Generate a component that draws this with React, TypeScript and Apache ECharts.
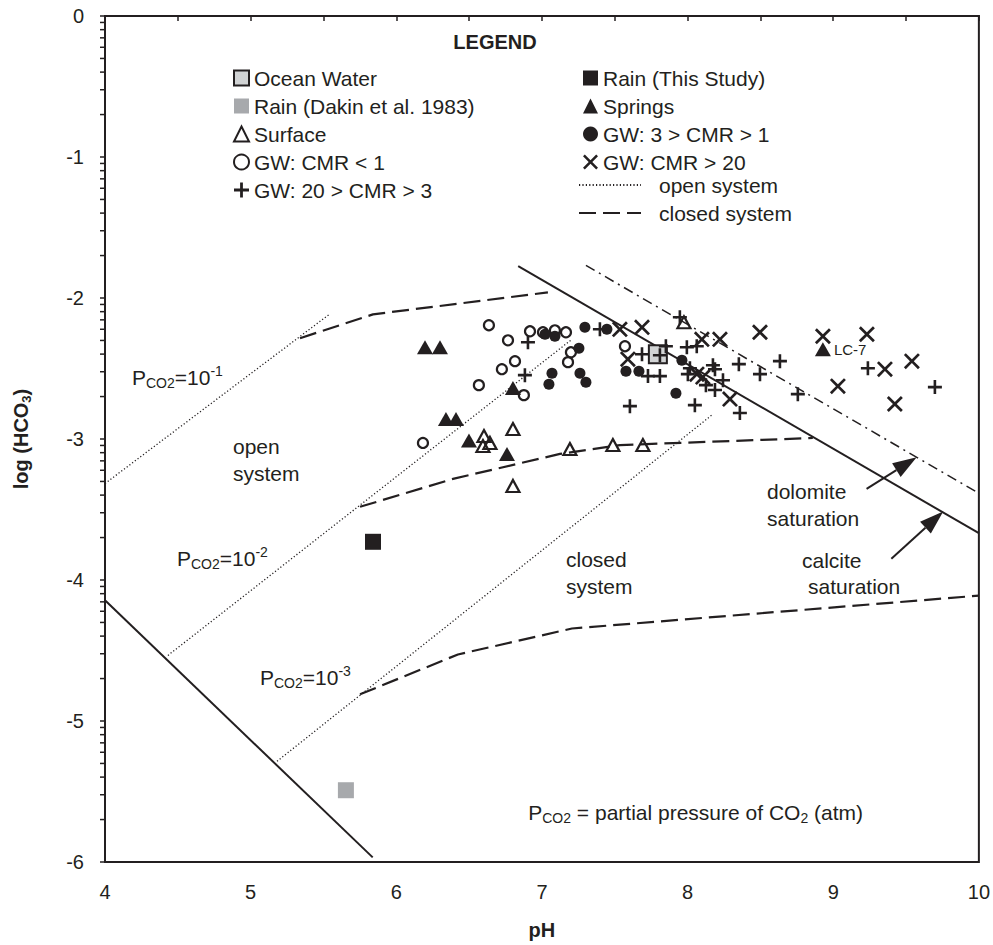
import React, { useEffect, useRef } from 'react';
import * as echarts from 'echarts';

const INK = '#231f20';
const FONT = '"Liberation Sans", Arial, Helvetica, sans-serif';

// ---------- data (pH, log HCO3) ----------
const oceanWater = [[7.796, -2.399]];
const rainThisStudy = [[5.84, -3.729]];
const rainDakin = [[5.654, -5.491]];
const springs = [
  [6.197, -2.349], [6.3, -2.349], [6.341, -2.859], [6.41, -2.859], [6.499, -3.011],
  [6.76, -3.106], [6.801, -2.639], [8.929, -2.363],
];
const springNames = ['', '', '', '', '', '', '', 'LC-7'];
const surface = [
  [6.602, -2.979], [6.643, -3.028], [6.595, -3.05], [6.801, -2.929], [7.192, -3.071],
  [7.487, -3.043], [7.693, -3.043], [6.801, -3.333], [7.975, -2.172],
];
const gwCmrBelow1 = [
  [6.636, -2.193], [6.767, -2.3], [6.918, -2.236], [7.007, -2.243], [7.089, -2.229],
  [7.165, -2.243], [6.725, -2.505], [6.815, -2.448], [6.567, -2.618], [6.876, -2.689],
  [7.199, -2.385], [7.179, -2.455], [6.183, -3.028], [7.57, -2.342],
];
const gwCmr1to3 = [
  [7.021, -2.257], [7.089, -2.271], [7.295, -2.208], [7.446, -2.222], [7.254, -2.356],
  [7.069, -2.533], [7.048, -2.611], [7.261, -2.533], [7.302, -2.597], [7.577, -2.519],
  [7.666, -2.519], [7.961, -2.441], [7.92, -2.675],
];
const gwCmr3to20 = [
  [6.904, -2.314], [6.883, -2.547], [7.398, -2.222], [7.851, -2.342], [7.81, -2.406],
  [7.687, -2.399], [7.728, -2.554], [7.81, -2.554], [7.604, -2.767], [7.995, -2.349],
  [8.063, -2.342], [7.947, -2.137], [8.016, -2.498], [8.002, -2.54], [8.174, -2.477],
  [8.188, -2.505], [8.243, -2.583], [8.126, -2.618], [8.188, -2.653], [8.359, -2.816],
  [8.05, -2.76], [8.352, -2.469], [8.497, -2.54], [8.634, -2.448], [8.757, -2.682],
  [9.238, -2.498], [9.698, -2.632],
];
const gwCmrAbove20 = [
  [7.535, -2.222], [7.687, -2.208], [7.59, -2.434], [8.098, -2.293], [8.222, -2.293],
  [8.064, -2.54], [8.105, -2.561], [8.291, -2.717], [8.497, -2.243], [8.929, -2.271],
  [9.231, -2.257], [9.355, -2.505], [9.54, -2.448], [9.032, -2.625], [9.423, -2.752],
];

// reference lines
const calciteLine = [[6.837, -1.774], [10, -3.668]];
const dolomiteLine = [[7.302, -1.769], [10, -3.385]];
const lowerBoundLine = [[4, -4.144], [5.838, -5.967]];
const openPco2m1 = [[4, -3.316], [5.54, -2.116]];
const openPco2m2 = [[4.432, -4.535], [7.206, -2.293]];
const openPco2m3 = [[5.181, -5.286], [8.167, -2.83]];
const closedTop = [[5.339, -2.285], [5.84, -2.116], [7.041, -1.96]];
const closedMid = [[5.751, -3.481], [6.389, -3.283], [7.124, -3.106], [7.535, -3.043], [8.86, -2.993]];
const closedBottom = [[5.751, -4.811], [6.423, -4.528], [7.206, -4.344], [10, -4.111]];
const arrows = [
  [9.229, -3.354, 9.573, -3.13],
  [9.399, -3.849, 9.755, -3.514],
];

// axis ticks
const yDecades = [-6, -5, -4, -3, -2, -1];
const yMinorMultipliers = [2, 3, 4, 5, 6, 7, 8, 9];
const yMinorTicks: number[] = [];
yDecades.forEach((d) => yMinorMultipliers.forEach((k) => yMinorTicks.push(d + Math.log10(k))));

const PLUS = 'path://M5.7,0H8.3V5.7H14V8.3H8.3V14H5.7V8.3H0V5.7H5.7Z';
const CROSS = 'path://M0,2.4L2.4,0L10,7.6L17.6,0L20,2.4L12.4,10L20,17.6L17.6,20L10,12.4L2.4,20L0,17.6L7.6,10Z';

const richBase = {
  m: { fontSize: 21, lineHeight: 26, fontFamily: FONT, color: INK },
  s: { fontSize: 14, lineHeight: 14, verticalAlign: 'bottom', fontFamily: FONT, color: INK },
  u: { fontSize: 14, lineHeight: 14, verticalAlign: 'top', fontFamily: FONT, color: INK },
};

function txt(text: string, x: number, y: number, opts: any = {}) {
  const size = opts.size || 21;
  const weight = opts.weight || 'normal';
  const align = opts.align || 'left';
  return {
    type: 'text',
    x,
    y,
    silent: true,
    z: 20,
    style: {
      text,
      fill: INK,
      font: `${weight} ${size}px ${FONT}`,
      textAlign: align,
      align,
      textVerticalAlign: 'middle',
      verticalAlign: 'middle',
      rich: opts.rich,
    },
  };
}

function pco2(exp: string, x: number, y: number) {
  return txt(`{m|P}{s|CO2}{m|=10}{u|${exp}}`, x, y, { rich: richBase });
}

export default function App() {
  const ref = useRef<HTMLDivElement>(null);

  useEffect(() => {
    if (!ref.current) return;
    const chart = echarts.init(ref.current, undefined, { renderer: 'svg' });

    const lineSeries = (name: string, data: number[][], lineStyle: any) => ({
      name,
      type: 'line',
      data,
      symbol: 'none',
      showSymbol: false,
      silent: true,
      z: 2,
      itemStyle: { color: 'rgba(0,0,0,0)', opacity: 0 },
      lineStyle: { color: INK, opacity: 1, ...lineStyle },
    });
    const dotted = { type: [1.2, 2.2], width: 1.3 };
    const dashed = { type: [17, 7], width: 2.2 };
    const solidMark = (extra: any) => ({ opacity: 1, ...extra });

    const legendText = { fontSize: 21, lineHeight: 22, color: INK, fontFamily: FONT };

    const option: any = {
      animation: false,
      backgroundColor: '#ffffff',
      textStyle: { fontFamily: FONT, color: INK },
      grid: { left: 105, right: 14, top: 16, bottom: 81, show: true, borderColor: INK, borderWidth: 2 },
      xAxis: {
        type: 'value',
        min: 4,
        max: 10,
        interval: 0.5,
        axisLine: { show: true, lineStyle: { color: INK, width: 2 } },
        axisTick: { show: true, length: 5, lineStyle: { color: INK, width: 1.5 } },
        axisLabel: {
          formatter: (v: number) => (Number.isInteger(v) ? String(v) : ''),
          fontSize: 20,
          color: INK,
          margin: 20,
          fontFamily: FONT,
        },
        splitLine: { show: false },
        name: 'pH',
        nameLocation: 'middle',
        nameGap: 58,
        nameTextStyle: { fontWeight: 'bold', fontSize: 20, color: INK, fontFamily: FONT },
      },
      yAxis: {
        type: 'value',
        min: -6,
        max: 0,
        interval: 1,
        axisLine: { show: true, lineStyle: { color: INK, width: 2 } },
        axisTick: { show: true, length: 5, lineStyle: { color: INK, width: 1.5 } },
        axisLabel: { fontSize: 20, color: INK, margin: 21, fontFamily: FONT },
        splitLine: { show: false },
        name: '{a|log (HCO}{b|3}{a|)}',
        nameLocation: 'middle',
        nameGap: 72,
        nameTextStyle: {
          rich: {
            a: { fontWeight: 'bold', fontSize: 20, color: INK, fontFamily: FONT, lineHeight: 24 },
            b: { fontWeight: 'bold', fontSize: 13, color: INK, fontFamily: FONT, lineHeight: 12, verticalAlign: 'bottom' },
          },
        },
      },
      legend: [
        {
          left: 233, top: 67, orient: 'vertical', padding: 0, itemGap: 6, itemWidth: 15, itemHeight: 15,
          selectedMode: false,
          textStyle: legendText,
          data: ['Ocean Water', 'Rain (Dakin et al. 1983)', 'Surface', 'GW: CMR < 1', 'GW: 20 > CMR > 3'],
        },
        {
          left: 583, top: 67, orient: 'vertical', padding: 0, itemGap: 6, itemWidth: 15, itemHeight: 15,
          selectedMode: false,
          textStyle: legendText,
          data: ['Rain (This Study)', 'Springs', 'GW: 3 > CMR > 1', 'GW: CMR > 20'],
        },
        {
          left: 578, top: 174, orient: 'vertical', padding: 0, itemGap: 6, itemWidth: 62, itemHeight: 14,
          selectedMode: false,
          itemStyle: { opacity: 0 },
          textStyle: { ...legendText, padding: [0, 0, 0, 13] },
          data: ['open system', 'closed system'],
        },
      ],
      graphic: [
        txt('LEGEND', 495, 42, { weight: 'bold', size: 20, align: 'center' }),
        pco2('-1', 132, 377),
        txt('open', 233, 446),
        txt('system', 233, 473),
        pco2('-2', 177, 558),
        pco2('-3', 260, 677),
        txt('closed', 566, 559),
        txt('system', 566, 586),
        txt('dolomite', 767, 491),
        txt('saturation', 767, 518),
        txt('calcite', 802, 560),
        txt('saturation', 808, 586),
        txt('{m|P}{s|CO2}{m| = partial pressure of CO}{s|2}{m| (atm)}', 863, 812, { rich: richBase, align: 'right' }),
      ],
      series: [
        lineSeries('calcite saturation', calciteLine, { width: 2 }),
        lineSeries('dolomite saturation', dolomiteLine, { width: 1.5, type: [10, 5, 2, 5] }),
        lineSeries('lower bound', lowerBoundLine, { width: 2 }),
        lineSeries('open system', openPco2m1, dotted),
        lineSeries('open system', openPco2m2, dotted),
        lineSeries('open system', openPco2m3, dotted),
        lineSeries('closed system', closedTop, dashed),
        lineSeries('closed system', closedMid, dashed),
        lineSeries('closed system', closedBottom, dashed),
        {
          name: 'y minor ticks',
          type: 'custom',
          silent: true,
          clip: false,
          z: 3,
          data: yMinorTicks.map((v) => [4, v]),
          renderItem: (_p: any, api: any) => {
            const p = api.coord([api.value(0), api.value(1)]);
            return {
              type: 'line',
              shape: { x1: p[0] - 5, y1: p[1], x2: p[0], y2: p[1] },
              style: { stroke: INK, lineWidth: 1.5 },
            };
          },
        },
        {
          name: 'arrows',
          type: 'custom',
          silent: true,
          clip: false,
          z: 4,
          encode: { x: [0, 2], y: [1, 3] },
          data: arrows,
          renderItem: (_p: any, api: any) => {
            const a = api.coord([api.value(0), api.value(1)]);
            const b = api.coord([api.value(2), api.value(3)]);
            const dx = b[0] - a[0];
            const dy = b[1] - a[1];
            const len = Math.hypot(dx, dy);
            const ux = dx / len;
            const uy = dy / len;
            const L = 24;
            const W = 8;
            const bx = b[0] - ux * L;
            const by = b[1] - uy * L;
            return {
              type: 'group',
              children: [
                { type: 'line', shape: { x1: a[0], y1: a[1], x2: bx, y2: by }, style: { stroke: INK, lineWidth: 2 } },
                {
                  type: 'polygon',
                  shape: { points: [[b[0], b[1]], [bx - uy * W, by + ux * W], [bx + uy * W, by - ux * W]] },
                  style: { fill: INK },
                },
              ],
            };
          },
        },
        {
          name: 'Ocean Water', type: 'scatter', data: oceanWater, symbol: 'rect', symbolSize: 18, z: 5, silent: true,
          itemStyle: solidMark({ color: '#d1d3d4', borderColor: INK, borderWidth: 2 }),
        },
        {
          name: 'Rain (This Study)', type: 'scatter', data: rainThisStudy, symbol: 'rect', symbolSize: 16, z: 5, silent: true,
          itemStyle: solidMark({ color: INK }),
        },
        {
          name: 'Rain (Dakin et al. 1983)', type: 'scatter', data: rainDakin, symbol: 'rect', symbolSize: 16, z: 5, silent: true,
          itemStyle: solidMark({ color: '#a7a9ac' }),
        },
        {
          name: 'Surface', type: 'scatter', data: surface, symbol: 'triangle', symbolSize: [13, 12], z: 5, silent: true,
          itemStyle: solidMark({ color: 'rgba(255,255,255,0)', borderColor: INK, borderWidth: 2.2 }),
        },
        {
          name: 'GW: CMR < 1', type: 'scatter', data: gwCmrBelow1, symbol: 'circle', symbolSize: 10, z: 5, silent: true,
          itemStyle: solidMark({ color: 'rgba(255,255,255,0)', borderColor: INK, borderWidth: 2.2 }),
        },
        {
          name: 'GW: 3 > CMR > 1', type: 'scatter', data: gwCmr1to3, symbol: 'circle', symbolSize: 11, z: 5, silent: true,
          itemStyle: solidMark({ color: INK }),
        },
        {
          name: 'Springs', type: 'scatter', symbol: 'triangle', symbolSize: [16, 14], z: 5, silent: true,
          itemStyle: solidMark({ color: INK }),
          data: springs.map((p, i) => ({
            value: p,
            label: springNames[i]
              ? { show: true, formatter: springNames[i], position: 'right', distance: 3, fontSize: 15, color: INK, fontFamily: FONT }
              : { show: false },
          })),
        },
        {
          name: 'GW: 20 > CMR > 3', type: 'scatter', data: gwCmr3to20, symbol: PLUS, symbolSize: 14, z: 6, silent: true,
          itemStyle: solidMark({ color: INK }),
        },
        {
          name: 'GW: CMR > 20', type: 'scatter', data: gwCmrAbove20, symbol: CROSS, symbolSize: 16, z: 6, silent: true,
          itemStyle: solidMark({ color: INK }),
        },
      ],
    };

    chart.setOption(option);
    return () => chart.dispose();
  }, []);

  return (
    <div
      ref={ref}
      style={{ position: 'fixed', left: 0, top: 0, width: 993, height: 945, background: '#fff' }}
    />
  );
}
